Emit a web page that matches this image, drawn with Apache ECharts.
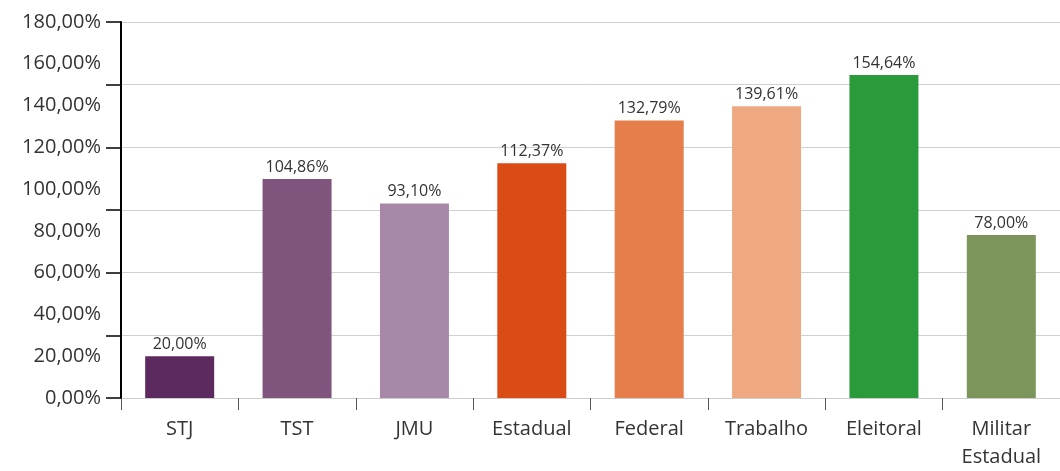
<!DOCTYPE html>
<html>
<head>
<meta charset="utf-8">
<script src="https://cdn.jsdelivr.net/npm/echarts@6/dist/echarts.min.js"></script>
<style>
  html, body { margin: 0; padding: 0; background: #fff; }
  #chart { width: 1060px; height: 471px; }
</style>
</head>
<body>
<div id="chart"></div>
<script>
var categories = ['STJ', 'TST', 'JMU', 'Estadual', 'Federal', 'Trabalho', 'Eleitoral', 'Militar\nEstadual'];
var values = [20.00, 104.86, 93.10, 112.37, 132.79, 139.61, 154.64, 78.00];
var colors = ['#5c2a5e', '#80557d', '#a888a8', '#d94c16', '#e57e4b', '#eea982', '#2a9a3a', '#7c955a'];

var chart = echarts.init(document.getElementById('chart'));

function pct(v) {
    return v.toFixed(2).replace('.', ',') + '%';
}

var font = '"Open Sans", sans-serif';

var option = {
    animation: false,
    grid: { left: 121, right: 0, top: 22, bottom: 68 },
    xAxis: {
        type: 'category',
        data: categories,
        axisLine: { show: true, lineStyle: { color: '#cccccc', width: 1 } },
        axisTick: { show: true, length: 12, lineStyle: { color: '#555555' } },
        axisLabel: {
            color: '#333333', fontSize: 20, fontFamily: font, margin: 17, lineHeight: 28
        }
    },
    yAxis: [
        {
            // labels every 20
            type: 'value', min: 0, max: 180, interval: 20,
            axisLine: { show: true, lineStyle: { color: '#000', width: 2 } },
            axisTick: { show: false },
            splitLine: { show: false },
            axisLabel: {
                color: '#333333', fontSize: 20, fontFamily: font, margin: 20,
                formatter: function (v) { return pct(v); }
            }
        },
        {
            // grid lines and ticks every 30
            type: 'value', min: 0, max: 180, interval: 30, position: 'left',
            axisLine: { show: false },
            axisTick: { show: true, length: 15, lineStyle: { color: '#000', width: 1.5 } },
            splitLine: { show: true, lineStyle: { color: '#d0d0d0', width: 1 } },
            axisLabel: { show: false }
        }
    ],
    series: [
        {
            type: 'bar',
            yAxisIndex: 0,
            barWidth: 69,
            data: values.map(function (v, i) {
                return { value: v, itemStyle: { color: colors[i] } };
            }),
            label: {
                show: true, position: 'top', distance: 4,
                color: '#333333', fontSize: 16, fontFamily: font,
                formatter: function (p) { return pct(p.value); }
            }
        }
    ]
};

chart.setOption(option);
</script>
</body>
</html>
